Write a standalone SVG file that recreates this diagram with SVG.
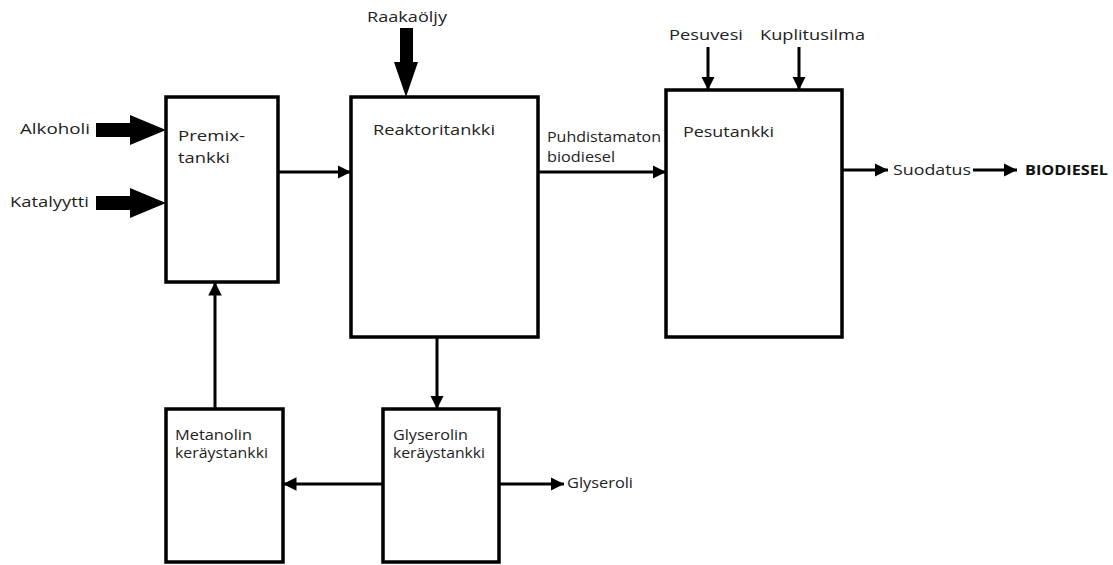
<svg xmlns="http://www.w3.org/2000/svg" width="1113" height="565" viewBox="0 0 1113 565">
<defs>
<style>
.box{fill:#fff;stroke:#000;stroke-width:3.5}
.t{font-family:"Open Sans","Noto Sans",sans-serif;font-size:15px;fill:#222}
.s{font-family:"Open Sans","Noto Sans",sans-serif;font-size:14px;fill:#222}
.b{font-family:"Open Sans","Noto Sans",sans-serif;font-size:15px;font-weight:bold;fill:#111}
.c{stroke:#000;stroke-width:3;fill:none}
.thick{fill:#000;stroke:none}
</style>
<marker id="ah" viewBox="0 0 10 10" refX="10" refY="5" markerWidth="4.5" markerHeight="4.5" markerUnits="strokeWidth" orient="auto">
<path d="M0,0 L10,5 L0,10 z" fill="#000"/>
</marker>
</defs>
<rect width="1113" height="565" fill="#fff"/>
<g id="connectors">
<polygon class="thick" points="96,123 130,123 130,115 166,130 130,145 130,137 96,137"/>
<polygon class="thick" points="96,196 130,196 130,188 166,203 130,218 130,210 96,210"/>
<polygon class="thick" points="400,28 413,28 413,62 418,62 406,97 394,62 400,62"/>
<line class="c" x1="278" y1="172" x2="351" y2="172" marker-end="url(#ah)"/>
<line class="c" x1="538" y1="172" x2="666" y2="172" marker-end="url(#ah)"/>
<line class="c" x1="708" y1="47" x2="708" y2="90" marker-end="url(#ah)"/>
<line class="c" x1="799" y1="47" x2="799" y2="90" marker-end="url(#ah)"/>
<line class="c" x1="842" y1="170" x2="888" y2="170" marker-end="url(#ah)"/>
<line class="c" x1="973" y1="170" x2="1017" y2="170" marker-end="url(#ah)"/>
<line class="c" x1="437" y1="337" x2="437" y2="409" marker-end="url(#ah)"/>
<line class="c" x1="215" y1="409" x2="215" y2="282" marker-end="url(#ah)"/>
<line class="c" x1="383" y1="484" x2="283" y2="484" marker-end="url(#ah)"/>
<line class="c" x1="499" y1="484" x2="564" y2="484" marker-end="url(#ah)"/>
</g>
<g id="inputs">
<text class="t" x="20" y="134" textLength="70" lengthAdjust="spacingAndGlyphs">Alkoholi</text>
<text class="t" x="10" y="207" textLength="79" lengthAdjust="spacingAndGlyphs">Katalyytti</text>
<text class="t" x="367" y="22" textLength="80" lengthAdjust="spacingAndGlyphs">Raakaöljy</text>
<text class="t" x="669" y="40" textLength="74" lengthAdjust="spacingAndGlyphs">Pesuvesi</text>
<text class="t" x="760" y="40" textLength="105" lengthAdjust="spacingAndGlyphs">Kuplitusilma</text>
<text class="t" x="893" y="175" textLength="78" lengthAdjust="spacingAndGlyphs">Suodatus</text>
<text class="b" x="1025" y="175" textLength="83" lengthAdjust="spacingAndGlyphs">BIODIESEL</text>
<text class="s" x="567" y="488" textLength="66" lengthAdjust="spacingAndGlyphs">Glyseroli</text>
<text class="s" x="547" y="142" textLength="114" lengthAdjust="spacingAndGlyphs">Puhdistamaton</text>
<text class="s" x="547" y="162" textLength="68" lengthAdjust="spacingAndGlyphs">biodiesel</text>
</g>
<g id="premix">
<rect class="box" x="166" y="97" width="112" height="185"/>
<text class="t" x="178" y="141" textLength="67" lengthAdjust="spacingAndGlyphs">Premix-</text>
<text class="t" x="178" y="163" textLength="52" lengthAdjust="spacingAndGlyphs">tankki</text>
</g>
<g id="reaktori">
<rect class="box" x="351" y="97" width="187" height="240"/>
<text class="t" x="373" y="135" textLength="122" lengthAdjust="spacingAndGlyphs">Reaktoritankki</text>
</g>
<g id="pesutankki">
<rect class="box" x="666" y="90" width="176" height="247"/>
<text class="t" x="683" y="137" textLength="91" lengthAdjust="spacingAndGlyphs">Pesutankki</text>
</g>
<g id="metanolin">
<rect class="box" x="166" y="409" width="117" height="153"/>
<text class="s" x="175" y="440" textLength="77" lengthAdjust="spacingAndGlyphs">Metanolin</text>
<text class="s" x="175" y="458" textLength="93" lengthAdjust="spacingAndGlyphs">keräystankki</text>
</g>
<g id="glyserolin">
<rect class="box" x="383" y="409" width="116" height="153"/>
<text class="s" x="393" y="440" textLength="75" lengthAdjust="spacingAndGlyphs">Glyserolin</text>
<text class="s" x="393" y="458" textLength="92" lengthAdjust="spacingAndGlyphs">keräystankki</text>
</g>
</svg>
